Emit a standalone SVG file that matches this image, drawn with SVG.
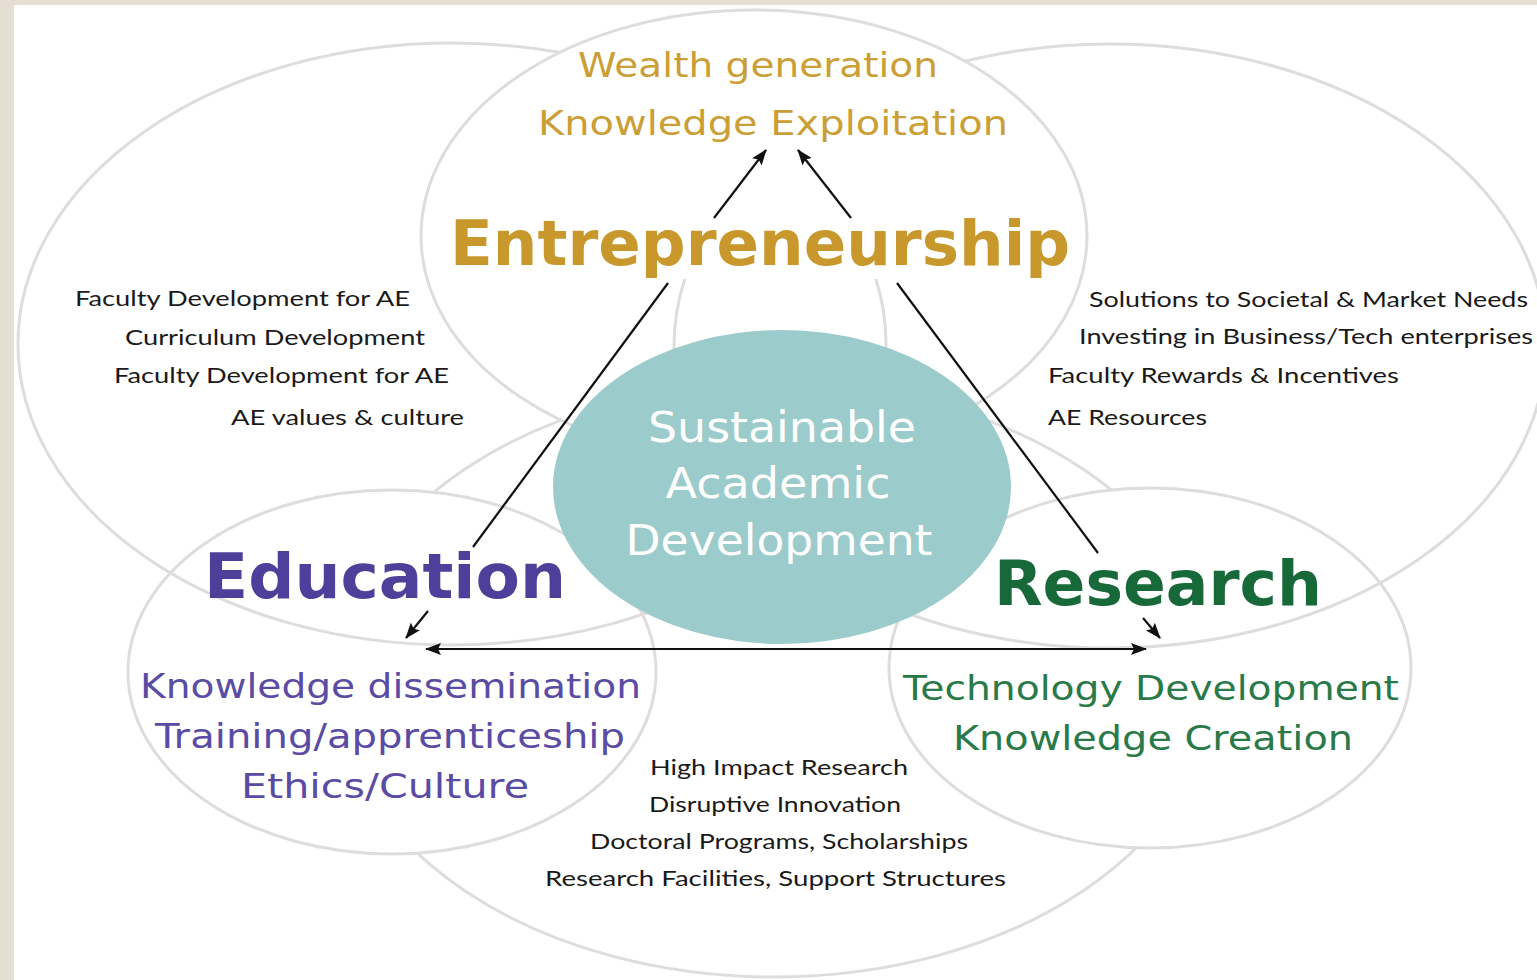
<svg xmlns="http://www.w3.org/2000/svg" width="1537" height="980" viewBox="0 0 1537 980">
  <defs>
    <style>
      .ring { fill: none; stroke: #dddddd; stroke-width: 3; }
      .ringw { fill: #ffffff; stroke: #dddddd; stroke-width: 3; }
      .conn { stroke: #111; stroke-width: 2.2; fill: none; }
      .blk { font-family: "Lato", "Liberation Sans", sans-serif; font-size: 22px; fill: #1a1a1a; }
      .hum { font-family: "DejaVu Sans", "Liberation Sans", sans-serif; }
      .gold { fill: #cb9f35; font-size: 33px; }
      .title { font-weight: bold; font-size: 62px; }
      .pur { fill: #5a4ca4; font-size: 34px; }
      .grn { fill: #2a7a49; font-size: 34px; }
      .wht { fill: #ffffff; font-size: 42px; }
    </style>
    <marker id="ah" viewBox="0 0 16 12" refX="15" refY="6" markerWidth="16" markerHeight="12" markerUnits="userSpaceOnUse" orient="auto-start-reverse">
      <path d="M0,0 L16,6 L0,12 L3,6 Z" fill="#111"/>
    </marker>
    <clipPath id="inner">
      <rect x="600" y="279" width="360" height="200"/>
    </clipPath>
  </defs>

  <rect x="0" y="0" width="1537" height="980" fill="#e4ded4"/>
  <rect x="14" y="5" width="1523" height="975" fill="#ffffff"/>

  <g id="rings">
    <ellipse id="ring-bottom" class="ring" cx="774" cy="680" rx="439" ry="297"/>
    <ellipse id="ring-education" class="ringw" cx="392" cy="672" rx="264" ry="182"/>
    <ellipse id="ring-research" class="ringw" cx="1150" cy="668" rx="261" ry="180"/>
    <ellipse id="ring-upper-left" class="ring" cx="452" cy="344" rx="434" ry="301"/>
    <ellipse id="ring-upper-right" class="ring" cx="1110" cy="346" rx="436" ry="302"/>
    <ellipse id="ring-entrepreneurship" class="ringw" cx="754" cy="236" rx="333" ry="226"/>
    <g clip-path="url(#inner)">
      <ellipse class="ring" cx="452" cy="344" rx="434" ry="301"/>
      <ellipse class="ring" cx="1110" cy="346" rx="436" ry="302"/>
    </g>
  </g>

  <g id="center">
    <ellipse cx="782" cy="487" rx="229" ry="157" fill="#9bcbcb"/>
    <text class="hum wht" x="782" y="442" text-anchor="middle" textLength="268" lengthAdjust="spacingAndGlyphs">Sustainable</text>
    <text class="hum wht" x="778" y="498" text-anchor="middle" textLength="225" lengthAdjust="spacingAndGlyphs">Academic</text>
    <text class="hum wht" x="779" y="555" text-anchor="middle" textLength="307" lengthAdjust="spacingAndGlyphs">Development</text>
  </g>

  <g id="connectors">
    <line class="conn" x1="714" y1="218" x2="766" y2="150" marker-end="url(#ah)"/>
    <line class="conn" x1="851" y1="218" x2="798" y2="150" marker-end="url(#ah)"/>
    <line class="conn" x1="668" y1="283" x2="473" y2="547"/>
    <line class="conn" x1="897" y1="283" x2="1098" y2="553"/>
    <line class="conn" x1="428" y1="611" x2="406" y2="638" marker-end="url(#ah)"/>
    <line class="conn" x1="1143" y1="618" x2="1160" y2="638" marker-end="url(#ah)"/>
    <line class="conn" x1="426" y1="649" x2="1146" y2="649" stroke-width="2.8" marker-start="url(#ah)" marker-end="url(#ah)"/>
  </g>

  <g id="entrepreneurship">
    <text class="hum gold" x="758" y="77" text-anchor="middle" textLength="360" lengthAdjust="spacingAndGlyphs">Wealth generation</text>
    <text class="hum gold" x="773" y="135" text-anchor="middle" font-size="34" textLength="470" lengthAdjust="spacingAndGlyphs">Knowledge Exploitation</text>
    <text class="hum title" x="450" y="265" fill="#c8982d" textLength="620" lengthAdjust="spacingAndGlyphs">Entrepreneurship</text>
  </g>

  <g id="upper-left-notes">
    <text class="blk" x="75" y="306" textLength="335" lengthAdjust="spacingAndGlyphs">Faculty Development for AE</text>
    <text class="blk" x="125" y="345" textLength="300" lengthAdjust="spacingAndGlyphs">Curriculum Development</text>
    <text class="blk" x="114" y="383" textLength="335" lengthAdjust="spacingAndGlyphs">Faculty Development for AE</text>
    <text class="blk" x="231" y="425" textLength="233" lengthAdjust="spacingAndGlyphs">AE values &amp; culture</text>
  </g>

  <g id="upper-right-notes">
    <text class="blk" x="1089" y="307" textLength="439" lengthAdjust="spacingAndGlyphs">Solutions to Societal &amp; Market Needs</text>
    <text class="blk" x="1079" y="344" textLength="454" lengthAdjust="spacingAndGlyphs">Investing in Business/Tech enterprises</text>
    <text class="blk" x="1048" y="383" textLength="351" lengthAdjust="spacingAndGlyphs">Faculty Rewards &amp; Incentives</text>
    <text class="blk" x="1048" y="425" textLength="159" lengthAdjust="spacingAndGlyphs">AE Resources</text>
  </g>

  <g id="education">
    <text class="hum title" x="204" y="598" fill="#4e3f9a" textLength="362" lengthAdjust="spacingAndGlyphs">Education</text>
    <text class="hum pur" x="140" y="698" textLength="501" lengthAdjust="spacingAndGlyphs">Knowledge dissemination</text>
    <text class="hum pur" x="155" y="748" textLength="470" lengthAdjust="spacingAndGlyphs">Training/apprenticeship</text>
    <text class="hum pur" x="241" y="798" textLength="288" lengthAdjust="spacingAndGlyphs">Ethics/Culture</text>
  </g>

  <g id="research">
    <text class="hum title" x="994" y="605" fill="#17693a" textLength="328" lengthAdjust="spacingAndGlyphs">Research</text>
    <text class="hum grn" x="903" y="700" textLength="496" lengthAdjust="spacingAndGlyphs">Technology Development</text>
    <text class="hum grn" x="953" y="750" textLength="400" lengthAdjust="spacingAndGlyphs">Knowledge Creation</text>
  </g>

  <g id="bottom-notes">
    <text class="blk" x="650" y="775" textLength="258" lengthAdjust="spacingAndGlyphs">High Impact Research</text>
    <text class="blk" x="649" y="812" textLength="252" lengthAdjust="spacingAndGlyphs">Disruptive Innovation</text>
    <text class="blk" x="590" y="849" textLength="378" lengthAdjust="spacingAndGlyphs">Doctoral Programs, Scholarships</text>
    <text class="blk" x="545" y="886" textLength="461" lengthAdjust="spacingAndGlyphs">Research Facilities, Support Structures</text>
  </g>
</svg>
